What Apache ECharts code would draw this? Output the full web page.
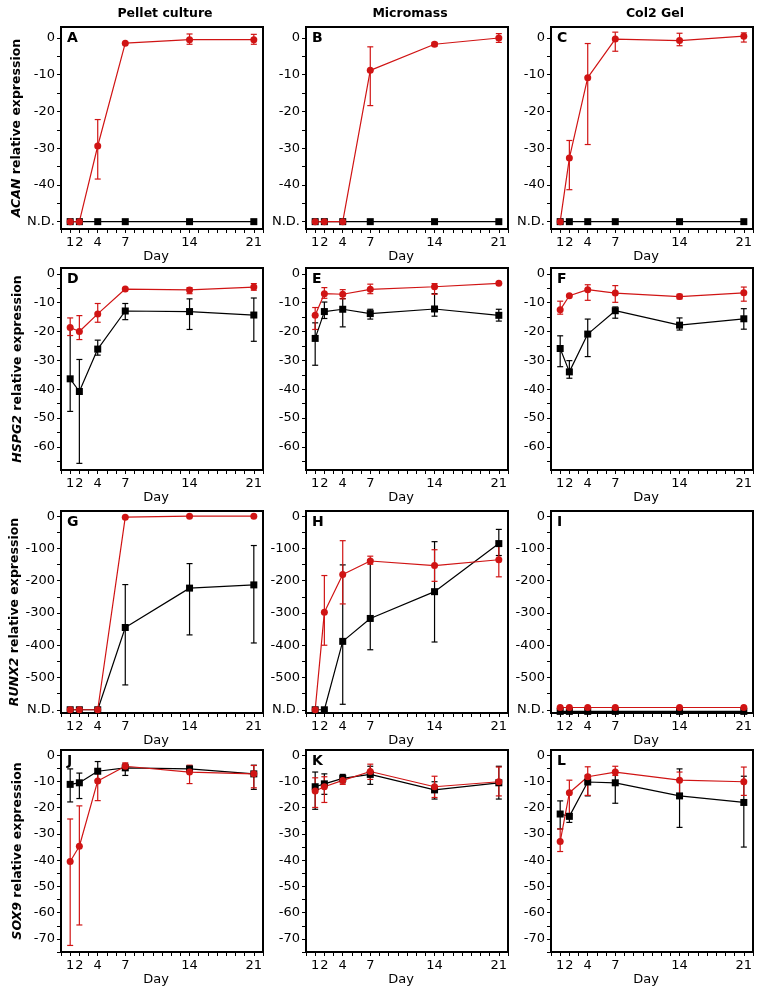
<!DOCTYPE html>
<html>
<head>
<meta charset="utf-8">
<script src="https://cdn.jsdelivr.net/npm/echarts@6/dist/echarts.min.js"></script>
<style>
  html, body { margin: 0; padding: 0; background: #fff; }
  #main { width: 763px; height: 991px; }
</style>
</head>
<body>
<div id="main"></div>
<script>
var days = [1, 2, 4, 7, 14, 21];
var dayLabels = [1, 2, 4, 7, 14, 21];

// ACAN
var acanPelletRed = [-50, -50, -29.4, -1.4, -0.45, -0.45];
var acanPelletRedErr = [null, null, [-38.4, -22.2], null, [-1.7, 1.1], [-1.7, 1.0]];
var acanPelletBlack = [-50, -50, -50, -50, -50, -50];
var acanMicroRed = [-50, -50, -50, -8.8, -1.7, 0];
var acanMicroRedErr = [null, null, null, [-18.4, -2.4], [-2.2, -1.2], [-1.2, 1.2]];
var acanMicroBlack = [-50, -50, -50, -50, -50, -50];
var acanGelRed = [-50, -32.7, -10.8, -0.3, -0.7, 0.5];
var acanGelRedErr = [null, [-41.3, -27.9], [-29, -1.5], [-3.6, 1.6], [-2.1, 1.3], [-1.1, 1.4]];
var acanGelBlack = [-50, -50, -50, -50, -50, -50];

// HSPG2
var hspgPelletRed = [-18.6, -20, -13.9, -5.3, -5.6, -4.6];
var hspgPelletRedErr = [[-21.4, -15.3], [-22.8, -14.5], [-16.8, -10.3], null, [-6.9, -4.8], [-5.7, -3.4]];
var hspgPelletBlack = [-36.4, -40.8, -26.1, -12.9, -13.1, -14.3];
var hspgPelletBlackErr = [[-47.7, -19], [-65.7, -29.7], [-28.2, -23], [-15.9, -10.3], [-19.3, -8.7], [-23.4, -8.4]];
var hspgMicroRed = [-14.4, -6.9, -7.1, -5.4, -4.5, -3.3];
var hspgMicroRedErr = [[-19.3, -11.7], [-8.5, -4.8], [-8.7, -5.5], [-6.9, -3.6], [-7.1, -3.4], null];
var hspgMicroBlack = [-22.4, -13.1, -12.3, -13.8, -12.2, -14.4];
var hspgMicroBlackErr = [[-31.7, -17], [-15.5, -9.8], [-18.4, -8.6], [-15.7, -12.3], [-14.7, -6.9], [-16.4, -12.3]];
var hspgGelRed = [-12.5, -7.6, -5.5, -6.7, -7.9, -6.6];
var hspgGelRedErr = [[-14, -9.5], null, [-9.2, -3.8], [-9.9, -4.1], [-8.7, -7.1], [-9.5, -4.6]];
var hspgGelBlack = [-25.9, -34, -20.9, -12.8, -17.8, -15.6];
var hspgGelBlackErr = [[-32.2, -21.5], [-36.2, -30.1], [-28.7, -15.7], [-15.4, -11.5], [-19.5, -15.3], [-19.2, -12.1]];

// RUNX2
var runxPelletRed = [-600, -600, -600, -3, 0, 0];
var runxPelletBlack = [-600, -600, -600, -345, -223, -213];
var runxPelletBlackErr = [null, null, null, [-523, -212], [-368, -147], [-393, -91]];
var runxMicroRed = [-600, -298, -181, -139, -153, -135];
var runxMicroRedErr = [null, [-400, -184], [-272, -76], [-149, -124], [-202, -104], [-188, -84]];
var runxMicroBlack = [-600, -600, -388, -317, -234, -85];
var runxMicroBlackErr = [null, null, [-583, -151], [-414, -136], [-390, -79], [-122, -41]];
var runxGelRed = [-593, -593, -593, -593, -593, -593];
var runxGelBlack = [-605, -605, -605, -605, -605, -605];

// SOX9
var soxPelletRed = [-40.5, -34.7, -9.8, -4.2, -6.4, -7.1];
var soxPelletRedErr = [[-72.5, -24.3], [-64.7, -19.3], [-17.3, -5.4], [-5.7, -2.9], [-10.8, -3.8], [-12.4, -3.9]];
var soxPelletBlack = [-11.1, -10.5, -6.1, -4.8, -5.2, -7.1];
var soxPelletBlackErr = [[-17.8, -5.2], [-16.5, -6.8], [-9.6, -2.4], [-7.7, -3.3], [-6.4, -4.2], [-13, -3.8]];
var soxMicroRed = [-13.6, -12, -9.6, -6.2, -12, -10.1];
var soxMicroRedErr = [[-19.9, -8.6], [-18, -8.2], [-11.1, -8.3], [-9.2, -3.4], [-16.1, -8], [-15.5, -4.5]];
var soxMicroBlack = [-12, -10.9, -8.8, -7.3, -13.2, -10.5];
var soxMicroBlackErr = [[-20.6, -6.4], [-14.9, -7.1], [-10.5, -7.3], [-11.1, -4.2], [-16.7, -10.1], [-16.7, -4.2]];
var soxGelRed = [-32.9, -14.3, -8.2, -6.4, -9.5, -10.1];
var soxGelRedErr = [[-36.7, -28.1], [-22.9, -9.5], [-15.3, -4.4], [-7.7, -4.2], [-15.5, -6.4], [-15.3, -4.5]];
var soxGelBlack = [-22.4, -23.3, -10.2, -10.5, -15.5, -18];
var soxGelBlackErr = [[-28.1, -17.4], [-25.6, -22.2], [-15.5, -7.6], [-18.3, -6.4], [-27.5, -5.2], [-35, -8]];

var colTitles = ['Pellet culture', 'Micromass', 'Col2 Gel'];
var genes = ['ACAN', 'HSPG2', 'RUNX2', 'SOX9'];
var letters = ['A', 'B', 'C', 'D', 'E', 'F', 'G', 'H', 'I', 'J', 'K', 'L'];
var rowLabels = [
    [0, -10, -20, -30, -40, -50],
    [0, -10, -20, -30, -40, -50, -60],
    [0, -100, -200, -300, -400, -500, -600],
    [0, -10, -20, -30, -40, -50, -60, -70]
];

var panels = [
    [acanPelletBlack, null, acanPelletRed, acanPelletRedErr],
    [acanMicroBlack, null, acanMicroRed, acanMicroRedErr],
    [acanGelBlack, null, acanGelRed, acanGelRedErr],
    [hspgPelletBlack, hspgPelletBlackErr, hspgPelletRed, hspgPelletRedErr],
    [hspgMicroBlack, hspgMicroBlackErr, hspgMicroRed, hspgMicroRedErr],
    [hspgGelBlack, hspgGelBlackErr, hspgGelRed, hspgGelRedErr],
    [runxPelletBlack, runxPelletBlackErr, runxPelletRed, null],
    [runxMicroBlack, runxMicroBlackErr, runxMicroRed, runxMicroRedErr],
    [runxGelBlack, null, runxGelRed, null],
    [soxPelletBlack, soxPelletBlackErr, soxPelletRed, soxPelletRedErr],
    [soxMicroBlack, soxMicroBlackErr, soxMicroRed, soxMicroRedErr],
    [soxGelBlack, soxGelBlackErr, soxGelRed, soxGelRedErr]
];

var FONT = '"DejaVu Sans", sans-serif';
var RED = '#d01414';
var colLeft = [61, 306, 551];
var rowTop = [27, 268, 511, 750];
var gw = 202, gh = 202;
var rowRange = [[-52, 3, 5, -50], [-68, 2, 5, null], [-610, 16, 50, -600], [-75, 2, 5, null]];

var xTicks = [];
for (var t = 0; t <= 22; t++) xTicks.push(t);

function errSeries(idx, errs, color) {
    var data = [];
    for (var i = 0; i < days.length; i++) {
        if (errs && errs[i]) data.push([days[i], errs[i][0], errs[i][1]]);
    }
    return {
        type: 'custom',
        xAxisIndex: idx,
        yAxisIndex: idx,
        silent: true,
        data: data,
        encode: { x: 0, y: [1, 2] },
        renderItem: function (params, api) {
            var top = api.coord([api.value(0), api.value(2)]);
            var bot = api.coord([api.value(0), api.value(1)]);
            var w = 3;
            var st = { stroke: color, lineWidth: 1.2 };
            return {
                type: 'group',
                children: [
                    { type: 'line', shape: { x1: top[0], y1: top[1], x2: bot[0], y2: bot[1] }, style: st },
                    { type: 'line', shape: { x1: top[0] - w, y1: top[1], x2: top[0] + w, y2: top[1] }, style: st },
                    { type: 'line', shape: { x1: bot[0] - w, y1: bot[1], x2: bot[0] + w, y2: bot[1] }, style: st }
                ]
            };
        }
    };
}

function lineSeries(idx, vals, color, symbol) {
    return {
        type: 'line',
        xAxisIndex: idx,
        yAxisIndex: idx,
        data: days.map(function (d, i) { return [d, vals[i]]; }),
        symbol: symbol,
        symbolSize: 7,
        showSymbol: true,
        color: color,
        lineStyle: { color: color, width: 1.2 },
        itemStyle: { color: color },
        silent: true
    };
}

var grids = [], xAxes = [], yAxes = [], series = [], graphics = [];

for (var r = 0; r < 4; r++) {
    for (var c = 0; c < 3; c++) {
        var idx = r * 3 + c;
        var rr = rowRange[r];
        var yTicks = [];
        for (var v = 0; v >= rr[0]; v -= rr[2]) yTicks.push(v);
        grids.push({
            left: colLeft[c], top: rowTop[r], width: gw, height: gh,
            show: true, borderColor: '#000', borderWidth: 2, backgroundColor: 'transparent'
        });
        xAxes.push({
            type: 'value', gridIndex: idx, min: 0, max: 22, interval: 1,
            name: 'Day', nameLocation: 'middle', nameGap: 13,
            nameTextStyle: { color: '#000', fontSize: 13, fontFamily: FONT, padding: [0, 12, 0, 0] },
            axisLine: { show: true, onZero: false, lineStyle: { color: '#000', width: 1 } },
            axisTick: { show: true, length: 4, customValues: xTicks, lineStyle: { color: '#000', width: 1 } },
            axisLabel: { customValues: dayLabels, color: '#000', fontSize: 13, fontFamily: FONT, margin: 7 },
            splitLine: { show: false }
        });
        (function (nd) {
            yAxes.push({
                type: 'value', gridIndex: idx, min: rr[0], max: rr[1],
                name: c === 0 ? '{i|' + genes[r] + '} relative expression' : '',
                nameLocation: 'middle', nameRotate: 90, nameGap: 37,
                nameTextStyle: {
                    color: '#000', fontSize: 12.5, fontWeight: 'bold', fontFamily: FONT,
                    rich: { i: { fontStyle: 'italic', fontWeight: 'bold', fontSize: 12.5, fontFamily: FONT, color: '#000' } }
                },
                axisLine: { show: true, onZero: false, lineStyle: { color: '#000', width: 1 } },
                axisTick: { show: true, length: 4, customValues: yTicks, lineStyle: { color: '#000', width: 1 } },
                axisLabel: {
                    customValues: rowLabels[r], color: '#000', fontSize: 13, fontFamily: FONT, margin: 6,
                    formatter: function (val) { return val === nd ? 'N.D.' : String(val); }
                },
                splitLine: { show: false }
            });
        })(rr[3]);
        var p = panels[idx];
        series.push(lineSeries(idx, p[0], '#000', 'rect'));
        series.push(errSeries(idx, p[1], '#000'));
        series.push(lineSeries(idx, p[2], RED, 'circle'));
        series.push(errSeries(idx, p[3], RED));
        graphics.push({
            type: 'text', left: colLeft[c] + 6, top: rowTop[r] + 4, z: 100,
            style: { text: letters[idx], font: 'bold 14px ' + FONT, fill: '#000' }
        });
    }
}

for (var k = 0; k < 3; k++) {
    graphics.push({
        type: 'text', x: colLeft[k] + gw / 2 + 3, y: 14, z: 100,
        style: {
            text: colTitles[k], font: 'bold 12.5px ' + FONT, fill: '#000',
            textAlign: 'center', textVerticalAlign: 'middle', align: 'center', verticalAlign: 'middle'
        }
    });
}

var chart = echarts.init(document.getElementById('main'));
chart.setOption({
    animation: false,
    backgroundColor: '#fff',
    grid: grids,
    xAxis: xAxes,
    yAxis: yAxes,
    series: series,
    graphic: graphics
});
</script>
</body>
</html>
